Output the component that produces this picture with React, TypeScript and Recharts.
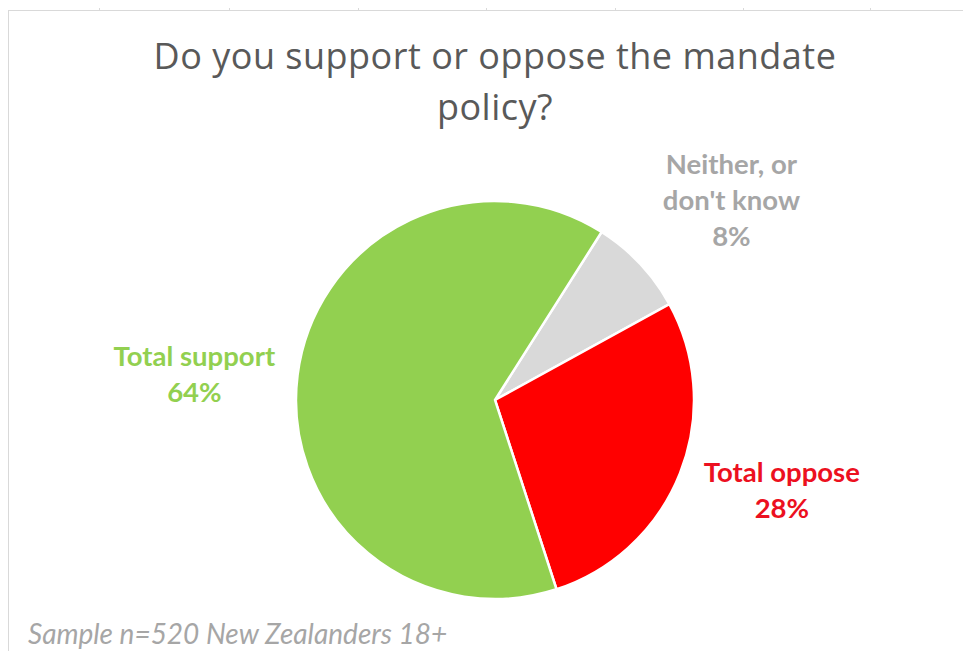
import React from "react";
import { PieChart, Pie, Cell } from "recharts";

const categories = ["Neither, or don't know", "Total oppose", "Total support"];
const values = [8, 28, 64];
const labelLines = [["Neither, or", "don't know"], ["Total oppose"], ["Total support"]];
const sliceColors = ["#D9D9D9", "#FF0000", "#92D050"];
const labelColors = ["#A6A6A6", "#EC1020", "#92D050"];
const gridTicks = [99, 229, 358, 486, 615, 743, 870];

const data = categories.map((name, i) => ({ name, value: values[i], idx: i }));

const RAD = Math.PI / 180;
// small placement nudges (style only) to mimic Excel's "best fit" label placement
const LABEL_NUDGE: [number, number][] = [
  [17, 5],
  [7, -22],
  [-2, 11],
];

const renderLabel = (props: any) => {
  const { cx, cy, midAngle, outerRadius, index, value } = props;
  const r = outerRadius + 102;
  const x = cx + r * Math.cos(-midAngle * RAD) + LABEL_NUDGE[index][0];
  const y = cy + r * Math.sin(-midAngle * RAD) + LABEL_NUDGE[index][1];
  const lines = [...labelLines[index], `${value}%`];
  const lh = 36;
  const startY = y - ((lines.length - 1) * lh) / 2;
  return (
    <text
      x={x}
      y={startY}
      textAnchor="middle"
      dominantBaseline="central"
      fill={labelColors[index]}
      fontFamily="Lato, 'Open Sans', sans-serif"
      fontWeight={700}
      fontSize={27.5}
    >
      {lines.map((l, i) => (
        <tspan key={i} x={x} dy={i === 0 ? 0 : lh}>
          {l}
        </tspan>
      ))}
    </text>
  );
};

export default function App() {
  return (
    <div style={{ position: "relative", width: 971, height: 659, margin: -8, background: "#fff", overflow: "hidden" }}>
      <div style={{ position: "absolute", left: 8, top: 10, width: 963, height: 1, background: "#D9D9D9" }} />
      <div style={{ position: "absolute", left: 8, top: 10, width: 1, height: 649, background: "#D9D9D9" }} />
      {gridTicks.map((t) => (
        <div key={t} style={{ position: "absolute", left: t, top: 3, width: 1, height: 7, background: "#D9D9D9" }} />
      ))}
      <div
        style={{
          position: "absolute",
          left: 0,
          top: 29.5,
          width: 990,
          textAlign: "center",
          fontFamily: "'Open Sans', Lato, sans-serif",
          fontSize: 36,
          letterSpacing: 0.5,
          lineHeight: "51px",
          color: "#595959",
        }}
      >
        Do you support or oppose the mandate
        <br />
        policy?
      </div>
      <div style={{ position: "absolute", left: 0, top: 0 }}>
        <PieChart width={971} height={659} margin={{ top: 0, right: 0, bottom: 0, left: 0 }}>
          <Pie
            data={data}
            dataKey="value"
            nameKey="name"
            cx={495}
            cy={400}
            outerRadius={199}
            startAngle={57.6}
            endAngle={-302.4}
            stroke="#FFFFFF"
            strokeWidth={2.5}
            label={renderLabel}
            labelLine={false}
            isAnimationActive={false}
          >
            {data.map((d) => (
              <Cell key={d.name} fill={sliceColors[d.idx]} />
            ))}
          </Pie>
        </PieChart>
      </div>
      <div
        style={{
          position: "absolute",
          left: 28,
          top: 616,
          fontFamily: "Lato, 'Open Sans', sans-serif",
          fontStyle: "italic",
          fontSize: 28,
          lineHeight: "normal",
          color: "#A6A6A6",
        }}
      >
        Sample n=520 New Zealanders 18+
      </div>
    </div>
  );
}
